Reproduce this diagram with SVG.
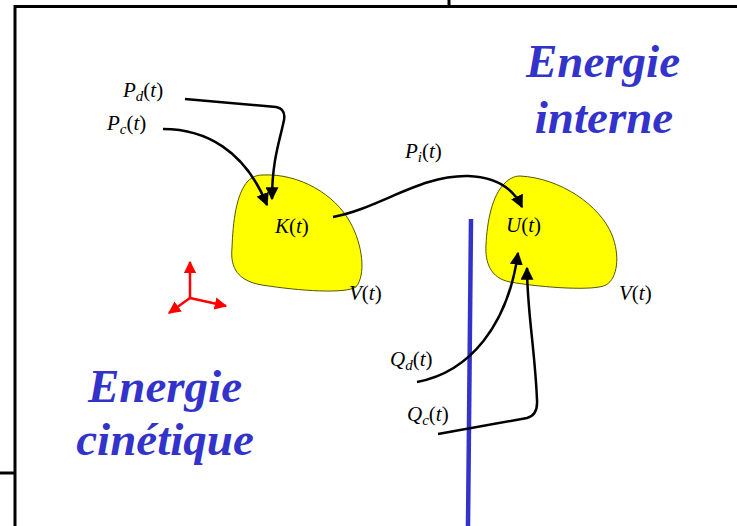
<svg xmlns="http://www.w3.org/2000/svg" width="737" height="526" viewBox="0 0 737 526">
<style>
.frame{stroke:#000;stroke-width:3;fill:none}
.blob{fill:#ffff00;stroke:#555500;stroke-width:1}
.conn{fill:none;stroke:#000;stroke-width:2.5}
.axis{stroke:#ff0000;stroke-width:2.5;fill:none}
.big{font-family:"Liberation Serif","Times New Roman",serif;font-weight:bold;font-style:italic;font-size:47px;fill:#3333cc;text-anchor:middle}
.m{font-family:"Liberation Serif","Times New Roman",serif;font-size:21px;fill:#000}
.i{font-style:italic}
.s{font-style:italic;font-size:15px}
</style>
<defs>
<marker id="ah" viewBox="0 0 10 10" refX="9" refY="5" markerWidth="5.2" markerHeight="5.2" markerUnits="strokeWidth" orient="auto">
<path d="M0,0 L10,5 L0,10 Z" fill="#000"/>
</marker>
<marker id="rh" viewBox="0 0 10 10" refX="9" refY="5" markerWidth="5" markerHeight="5" markerUnits="strokeWidth" orient="auto">
<path d="M0,0 L10,5 L0,10 Z" fill="#ff0000"/>
</marker>
</defs>
<g id="frame">
<path class="frame" d="M15,526 V6.5 H737"/>
<path class="frame" d="M449,0 V6.5"/>
<path class="frame" d="M0,473 H15"/>
</g>
<g id="separator">
<path d="M471,219 L468,526" stroke="#3333cc" stroke-width="4.5" fill="none"/>
</g>
<g id="node-K">
<path class="blob" d="M262,175 C300,173 335,195 350,222 C363,245 366,275 356,287 C345,294 300,291 262,285 C238,281 230,268 232,248 C233,222 236,194 248,181 C252,177 257,175 262,175 Z"/>
<text class="m" x="275" y="233"><tspan class="i">K</tspan>(<tspan class="i">t</tspan>)</text>
<text class="m" x="349" y="300"><tspan class="i">V</tspan>(<tspan class="i">t</tspan>)</text>
</g>
<g id="node-U">
<path class="blob" d="M520,176 C560,178 600,205 612,235 C620,255 618,278 606,285 C595,291 545,288 510,282 C490,278 485,262 486,245 C487,222 492,195 505,183 C509,179 514,176 520,176 Z"/>
<text class="m" x="506" y="232"><tspan class="i">U</tspan>(<tspan class="i">t</tspan>)</text>
<text class="m" x="619" y="300"><tspan class="i">V</tspan>(<tspan class="i">t</tspan>)</text>
</g>
<g id="labels">
<text class="m" x="123" y="97"><tspan class="i">P</tspan><tspan class="s" dy="4">d</tspan><tspan dy="-4">(</tspan><tspan class="i">t</tspan>)</text>
<text class="m" x="107" y="130"><tspan class="i">P</tspan><tspan class="s" dy="4">c</tspan><tspan dy="-4">(</tspan><tspan class="i">t</tspan>)</text>
<text class="m" x="405" y="158"><tspan class="i">P</tspan><tspan class="s" dy="4">i</tspan><tspan dy="-4">(</tspan><tspan class="i">t</tspan>)</text>
<text class="m" x="390" y="366"><tspan class="i">Q</tspan><tspan class="s" dy="4">d</tspan><tspan dy="-4">(</tspan><tspan class="i">t</tspan>)</text>
<text class="m" x="407" y="421"><tspan class="i">Q</tspan><tspan class="s" dy="4">c</tspan><tspan dy="-4">(</tspan><tspan class="i">t</tspan>)</text>
</g>
<g id="connectors">
<path class="conn" marker-end="url(#ah)" d="M185,99 L276,107 Q286,109 284,120 C280,140 272,160 272,199"/>
<path class="conn" marker-end="url(#ah)" d="M163,129 C205,129 245,150 267,205"/>
<path class="conn" marker-end="url(#ah)" d="M333,217 C380,208 420,175 468,176 C497,177 514,190 522,207"/>
<path class="conn" marker-end="url(#ah)" d="M417,382 C470,372 508,325 518,253"/>
<path class="conn" marker-end="url(#ah)" d="M438,434 L527,418 Q538,415 537,400 C535,350 527,310 527,268"/>
</g>
<g id="axes">
<path class="axis" marker-end="url(#rh)" d="M190,298 L190,262"/>
<path class="axis" marker-end="url(#rh)" d="M190,298 L226,306"/>
<path class="axis" marker-end="url(#rh)" d="M190,298 L169,313"/>
</g>
<g id="titles">
<text class="big" x="603" y="77">Energie</text>
<text class="big" x="604" y="133">interne</text>
<text class="big" x="165" y="402">Energie</text>
<text class="big" x="165" y="455">cinétique</text>
</g>
</svg>
